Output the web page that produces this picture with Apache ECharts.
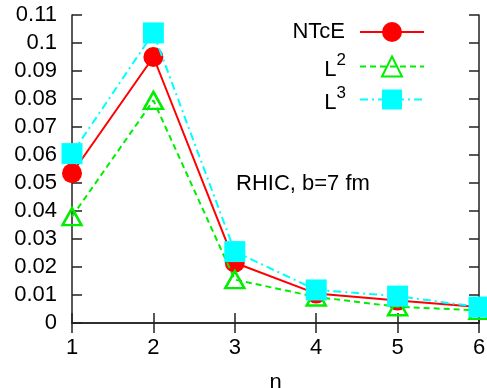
<!DOCTYPE html>
<html>
<head>
<meta charset="utf-8">
<script src="https://cdn.jsdelivr.net/npm/echarts@6/dist/echarts.min.js"></script>
<style>
  html, body { margin: 0; padding: 0; background: #fff; }
  #chart { width: 487px; height: 388px; }
</style>
</head>
<body>
<div id="chart"></div>
<script>
// Harmonic order n and the three flow estimates
const nValues = [1, 2, 3, 4, 5, 6];
const ntce = [0.0535, 0.095, 0.0215, 0.0105, 0.008, 0.0057];
const l2 = [0.038, 0.0795, 0.0155, 0.0093, 0.0058, 0.0045];
const l3 = [0.0605, 0.1036, 0.0255, 0.0118, 0.0096, 0.0057];
const yTicks = { min: 0, max: 0.11, step: 0.01 };
const annotation = 'RHIC, b=7 fm';

const FONT = 'Liberation Sans, Arial, Helvetica, sans-serif';
const FS = 22;
const AXIS = '#222';
const RED = '#ff0000', GREEN = '#00ee00', CYAN = '#00ffff';

const pairs = ys => nValues.map((n, i) => [n, ys[i]]);

const legendRich = {
  b: { fontSize: FS, fontFamily: FONT, color: '#000', verticalAlign: 'bottom' },
  bEnd: { fontSize: FS, fontFamily: FONT, color: '#000', verticalAlign: 'bottom', padding: [0, 10, 0, 0] },
  sup: { fontSize: 17, fontFamily: FONT, color: '#000', verticalAlign: 'top', padding: [0, 9, 12, 0] }
};
const legendLabel = {
  'NTcE': '{bEnd|NTcE}',
  'L2': '{b|L}{sup|2}',
  'L3': '{b|L}{sup|3}'
};
function legendFor(name, top) {
  return {
    data: [name], orient: 'vertical', align: 'right',
    right: 62, top: top, itemWidth: 64, itemHeight: 25, itemGap: 0,
    selectedMode: false, padding: 0,
    formatter: n => legendLabel[n],
    textStyle: { rich: legendRich, fontFamily: FONT, fontSize: FS }
  };
}

const chart = echarts.init(document.getElementById('chart'), null, { renderer: 'canvas' });
const axisCommon = {
  axisLine: { show: true, lineStyle: { color: AXIS, width: 1.5 } },
  axisTick: { show: true, inside: true, length: 10, lineStyle: { color: AXIS, width: 1.5 } },
  splitLine: { show: false }
};
chart.setOption({
  animation: false,
  backgroundColor: '#fff',
  grid: { left: 72, right: 8, top: 15, bottom: 65, containLabel: false, outerBoundsMode: 'none' },
  legend: [legendFor('NTcE', 21), legendFor('L2', 52), legendFor('L3', 85)],
  xAxis: [
    Object.assign({
      type: 'value', min: 1, max: 6, interval: 1, position: 'bottom',
      name: 'n', nameLocation: 'middle', nameGap: 49,
      nameTextStyle: { fontFamily: FONT, fontSize: FS, color: '#000' },
      axisLabel: { fontFamily: FONT, fontSize: FS, color: '#000', margin: 14 }
    }, axisCommon),
    Object.assign({
      type: 'value', min: 1, max: 6, interval: 1, position: 'top',
      axisLabel: { show: false }
    }, axisCommon)
  ],
  yAxis: [
    Object.assign({
      type: 'value', min: yTicks.min, max: yTicks.max, interval: yTicks.step, position: 'left',
      axisLabel: { fontFamily: FONT, fontSize: FS, color: '#000', margin: 15,
        formatter: v => String(Math.round(v * 100) / 100) }
    }, axisCommon),
    Object.assign({
      type: 'value', min: yTicks.min, max: yTicks.max, interval: yTicks.step, position: 'right',
      axisLabel: { show: false }
    }, axisCommon)
  ],
  graphic: [{
    type: 'text', left: 236, top: 173,
    style: { text: annotation, font: FS + 'px ' + FONT, fill: '#000' }
  }],
  series: [
    {
      name: 'NTcE', type: 'line', data: pairs(ntce), z: 3,
      symbol: 'circle', symbolSize: 20,
      lineStyle: { color: RED, width: 2 },
      itemStyle: { color: RED }
    },
    {
      name: 'L2', type: 'line', data: pairs(l2), z: 4,
      symbol: 'triangle', symbolSize: [19, 17],
      lineStyle: { color: GREEN, width: 2, type: [6, 4] },
      itemStyle: { color: 'rgba(0,0,0,0)', borderColor: GREEN, borderWidth: 2.5 }
    },
    {
      name: 'L3', type: 'line', data: pairs(l3), z: 5,
      symbol: 'rect', symbolSize: 21,
      lineStyle: { color: CYAN, width: 2, type: [8, 4, 2, 4] },
      itemStyle: { color: CYAN }
    }
  ]
});
</script>
</body>
</html>
